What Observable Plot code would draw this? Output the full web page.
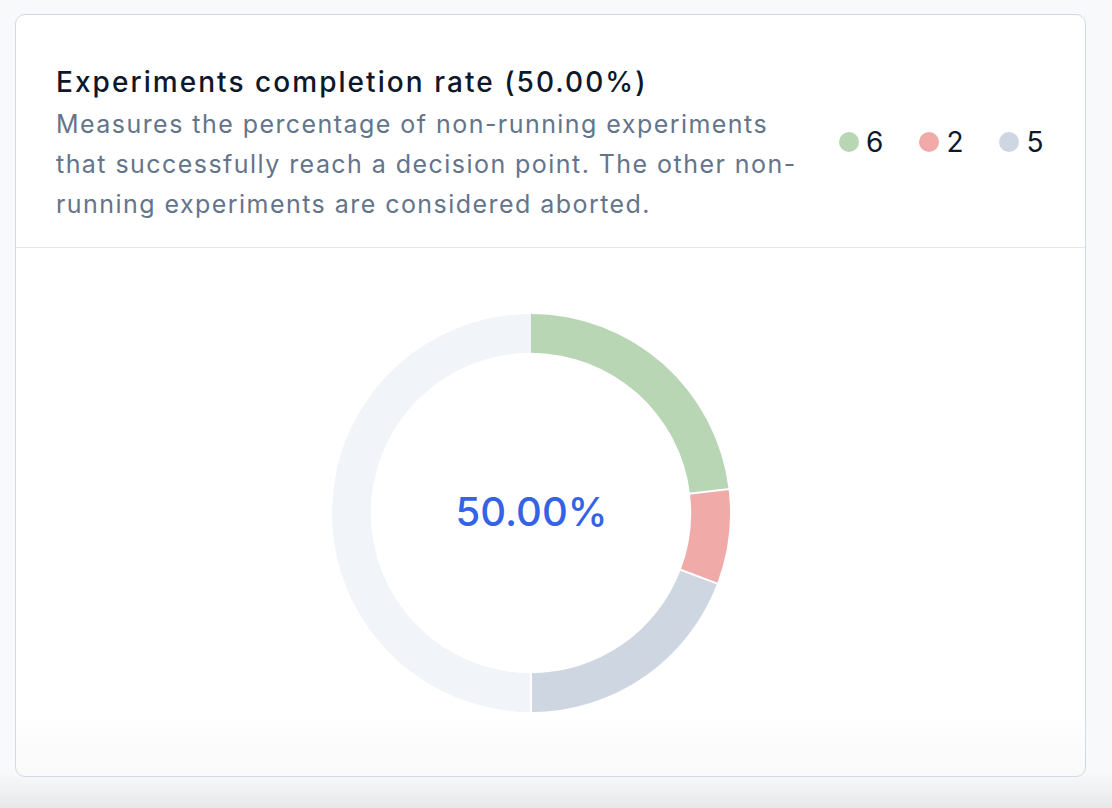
<!DOCTYPE html>
<html>
<head>
<meta charset="utf-8">
<script src="https://cdn.jsdelivr.net/npm/d3@7"></script>
<script src="https://cdn.jsdelivr.net/npm/@observablehq/plot@0.6"></script>
<style>
html, body { margin: 0; padding: 0; }
body {
  width: 1112px; height: 808px; position: relative; overflow: hidden;
  background: linear-gradient(to bottom, #f8f9fb 0px, #f8f9fb 772px, #e7e8ea 808px);
  font-family: Inter, "Noto Sans", sans-serif;
}
#card {
  position: absolute; left: 15px; top: 14px; width: 1069px; height: 761px;
  border: 1px solid #d3d9e2; border-radius: 10px; overflow: hidden;
  background: linear-gradient(to bottom, #ffffff 0px, #ffffff 700px, #f9f9fa 761px);
}
#head { position: absolute; left: 0; top: 0; width: 100%; height: 232px; border-bottom: 1px solid #e2e7ee; }
#title {
  position: absolute; left: 40px; top: 51px; font-size: 28px; font-weight: 500; letter-spacing: 2.05px;
  color: #0f172a; line-height: 1.2; white-space: nowrap;
}
#subtitle {
  position: absolute; left: 40px; top: 89px; width: 752px; font-size: 25px; line-height: 40px;
  color: #64748b; font-weight: 400; letter-spacing: 1.45px;
}
#legend {
  position: absolute; left: 823px; top: 110px; display: flex; align-items: center;
}
.item { display: flex; align-items: center; margin-right: 35px; }
.dot { width: 20px; height: 20px; border-radius: 50%; margin-right: 7px; }
.lab { font-size: 28px; color: #0f172a; line-height: normal; letter-spacing: 1px; }
#chart { position: absolute; left: 0; top: 233px; }
</style>
</head>
<body>
<div id="card">
  <div id="head">
    <div id="title"></div>
    <div id="subtitle"></div>
    <div id="legend"></div>
  </div>
  <div id="chart"></div>
</div>
<script>
// ---- data ----
const titleText = "Experiments completion rate (50.00%)";
const subtitleText = "Measures the percentage of non-running experiments that successfully reach a decision point. The other non-running experiments are considered aborted.";
const categories = ["completed", "aborted", "other"];
const values = [6, 2, 5];
const labels = ["6", "2", "5"];
const colors = ["#b9d6b4", "#f0aaa8", "#ced6e2"];
const centerLabel = "50.00%";
const trackColor = "#f1f4f9";
const arcSpan = Math.PI;      // the segments fill half of the ring
const innerRatio = 0.805;

// ---- header ----
document.getElementById("title").textContent = titleText;
document.getElementById("subtitle").textContent = subtitleText;
const legend = document.getElementById("legend");
categories.forEach((c, i) => {
  const it = document.createElement("div"); it.className = "item";
  const d = document.createElement("div"); d.className = "dot"; d.style.background = colors[i];
  const l = document.createElement("div"); l.className = "lab"; l.textContent = labels[i];
  it.appendChild(d); it.appendChild(l); legend.appendChild(it);
});

// ---- chart ----
const slices = categories.map((c, i) => ({category: c, value: values[i], color: colors[i]}));
const pie = d3.pie().sort(null).value(d => d.value).startAngle(0).endAngle(arcSpan);

function donut(index, scales) {
  const cx = scales.x(0), cy = scales.y(0);
  const R = Math.abs(scales.x(1) - scales.x(0));
  const r = R * innerRatio;
  const g = d3.create("svg:g").attr("transform", `translate(${cx},${cy})`);
  const arc = d3.arc().innerRadius(r).outerRadius(R);
  g.append("path").attr("d", arc({startAngle: 0, endAngle: 2 * Math.PI})).attr("fill", trackColor);
  const arcs = pie(slices);
  g.selectAll("path.seg").data(arcs).join("path")
    .attr("class", "seg").attr("d", arc).attr("fill", d => d.data.color);
  g.selectAll("line").data(arcs).join("line")
    .attr("x1", d => Math.sin(d.endAngle) * (r - 1)).attr("y1", d => -Math.cos(d.endAngle) * (r - 1))
    .attr("x2", d => Math.sin(d.endAngle) * (R + 1)).attr("y2", d => -Math.cos(d.endAngle) * (R + 1))
    .attr("stroke", "#ffffff").attr("stroke-width", 2);
  return g.node();
}

const center = [{x: 0, y: 0, label: centerLabel}];

const plot = Plot.plot({
  width: 1069,
  height: 528,
  marginLeft: 316, marginRight: 355, marginTop: 66, marginBottom: 64,
  x: {domain: [-1, 1], axis: null},
  y: {domain: [-1, 1], axis: null},
  style: {background: "transparent", fontFamily: "Inter, sans-serif", overflow: "visible"},
  marks: [
    donut,
    Plot.text(center, {x: "x", y: "y", text: "label", fontSize: 40, fontWeight: 500, fill: "#3563e5"})
  ]
});
document.getElementById("chart").appendChild(plot);
</script>
</body>
</html>
